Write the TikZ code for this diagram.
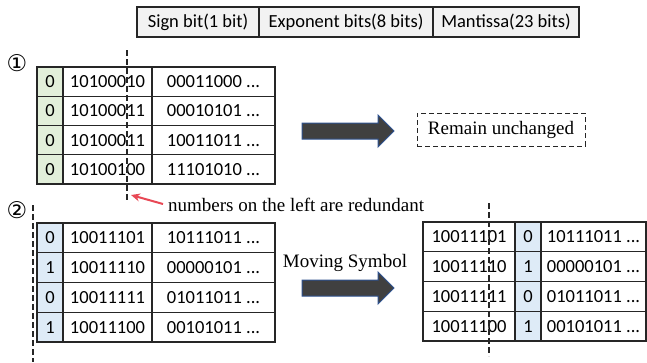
\documentclass[tikz,border=0pt]{standalone}
\usepackage{fontspec}
\setmainfont{Liberation Serif}
\newfontfamily\calfont{Carlito}
\newfontfamily\symfont{DejaVu Sans}
\usetikzlibrary{arrows.meta}
\definecolor{gcell}{RGB}{226,239,218}
\definecolor{bcell}{RGB}{222,235,247}
\definecolor{hcell}{RGB}{242,242,242}
\definecolor{arrfill}{RGB}{64,64,64}
\definecolor{arrline}{RGB}{47,82,143}
\definecolor{redarr}{RGB}{232,72,85}
\newcommand\mydots{...}
\tikzset{
  cell/.style={draw=black!85, line width=1.1pt, inner sep=0pt, font=\calfont\fontsize{18.5}{20}\selectfont},
  hdr/.style={cell, fill=hcell, minimum height=30pt},
  serif/.style={inner sep=0pt, font=\fontsize{19}{21}\selectfont},
  bigarrow/.style={fill=arrfill, draw=arrline, line width=1pt},
  cut/.style={dashed, dash pattern=on 6pt off 3pt, line width=1.3pt, black!85},
  circnum/.style={inner sep=0pt, font=\symfont\fontsize{23}{24}\selectfont}
}
\begin{document}
\begin{tikzpicture}[x=1pt,y=-1pt]
\useasboundingbox (0,0) rectangle (647,362);
% header
\node[hdr, minimum width=122pt] (h1) at (198,22) {Sign bit(1 bit)};
\node[hdr, minimum width=174pt] (h2) at (346,22) {Exponent bits(8 bits)};
\node[hdr, minimum width=146pt] (h3) at (506,22) {Mantissa(23 bits)};
% circled numbers
\node[circnum] (n1) at (17,63) {①};
\node[circnum] (n2) at (17,210) {②};
% table 1
\foreach \a/\b/\c [count=\i] in {0/10100010/00011000,0/10100011/00010101,0/10100011/10011011,0/10100100/11101010}{
  \node[cell, fill=gcell, minimum width=26pt, minimum height=29.25pt] (ta\i) at (50,{67+(\i-0.5)*29.25}) {\a};
  \node[cell, minimum width=89pt, minimum height=29.25pt] (tb\i) at (107.5,{67+(\i-0.5)*29.25}) {\b};
  \node[cell, minimum width=123pt, minimum height=29.25pt] (tc\i) at (213.5,{67+(\i-0.5)*29.25}) {\c\ \mydots};
}
% table 2
\foreach \a/\b/\c [count=\i] in {0/10011101/10111011,1/10011110/00000101,0/10011111/01011011,1/10011100/00101011}{
  \node[cell, fill=bcell, minimum width=26pt, minimum height=29.75pt] (ua\i) at (50,{223+(\i-0.5)*29.75}) {\a};
  \node[cell, minimum width=89pt, minimum height=29.75pt] (ub\i) at (107.5,{223+(\i-0.5)*29.75}) {\b};
  \node[cell, minimum width=123pt, minimum height=29.75pt] (uc\i) at (213.5,{223+(\i-0.5)*29.75}) {\c\ \mydots};
}
% table 3
\foreach \a/\b/\c [count=\i] in {10011101/0/10111011,10011110/1/00000101,10011111/0/01011011,10011100/1/00101011}{
  \node[cell, minimum width=92pt, minimum height=29.75pt] (va\i) at (469,{222+(\i-0.5)*29.75}) {\a};
  \node[cell, fill=bcell, minimum width=26pt, minimum height=29.75pt] (vb\i) at (528,{222+(\i-0.5)*29.75}) {\b};
  \node[cell, minimum width=105pt, minimum height=29.75pt] (vc\i) at (593.5,{222+(\i-0.5)*29.75}) {\c\ \mydots};
}
% dashed cut lines
\coordinate (c1t) at (127,50); \coordinate (c1b) at (127,201);
\draw[cut] (c1t) -- (c1b);
\coordinate (c2t) at (33,205); \coordinate (c2b) at (33,362);
\draw[cut] (c2t) -- (c2b);
\coordinate (c3t) at (489,203); \coordinate (c3b) at (489,356);
\draw[cut] (c3t) -- (c3b);
% big arrows
\draw[bigarrow] (302,123) -- (378,123) -- (378,115) -- (394,131) -- (378,147) -- (378,139) -- (302,139) -- cycle;
\draw[bigarrow] (302,280) -- (378,280) -- (378,272) -- (394,288) -- (378,304) -- (378,296) -- (302,296) -- cycle;
% texts
\node[serif, draw=black!85, dashed, dash pattern=on 5pt off 3pt, line width=1pt, minimum width=168pt, minimum height=33pt] (rem) at (501,129.5) {Remain unchanged};
\node[serif, anchor=west] (note) at (168,205) {numbers on the left are redundant};
\node[serif] (mov) at (345,263) {Moving Symbol};
\coordinate (tip) at (131,195);
\draw[redarr, line width=2pt, -{Stealth[length=9pt,width=8pt]}] ([xshift=-5pt,yshift=1pt]note.west) -- (tip);
\end{tikzpicture}
\end{document}
